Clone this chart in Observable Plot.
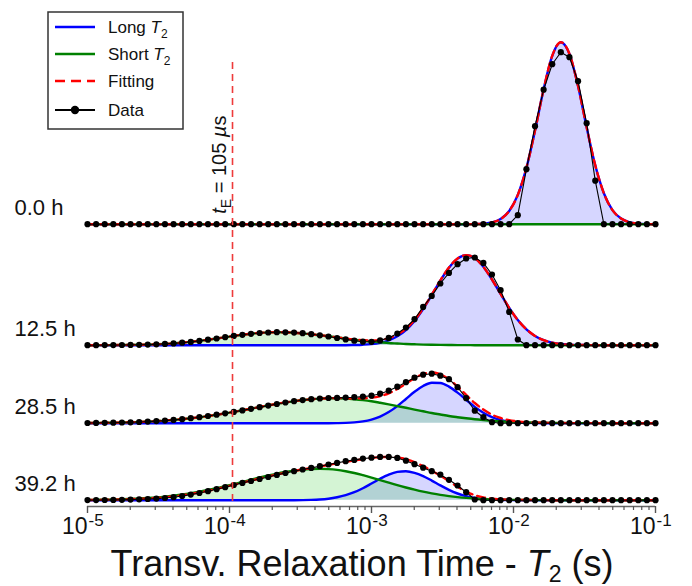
<!DOCTYPE html>
<html>
<head>
<meta charset="utf-8">
<script src="https://cdn.jsdelivr.net/npm/d3@7"></script>
<script src="https://cdn.jsdelivr.net/npm/@observablehq/plot@0.6"></script>
<style>
  body { margin: 0; background: #fff; }
  #wrap { position: relative; width: 692px; height: 586px; font-family: "Liberation Sans", Arial, sans-serif; }
</style>
</head>
<body>
<div id="wrap"></div>
<script>
// ---------------- data ----------------
const hours = ["0.0 h", "12.5 h", "28.5 h", "39.2 h"];
const offsets = [276, 155, 77, 0];           // vertical stacking offset of each trace
const decadeTicks = [1e-5, 1e-4, 1e-3, 1e-2, 1e-1];
const tickExponents = ["-5", "-4", "-3", "-2", "-1"];
const tE = 1.05e-4;                            // echo time, 105 µs
const nPoints = 67;                            // log-spaced T2 grid, 1e-5 … 1e-1 s

const long_0h = [
  0,0,0,0,0,0,0,0,0,0,
  0,0,0,0,0,0,0,0,0,0,
  0,0,0,0,0,0,0,0,0,0,
  0,0,0,0,0,0,0,0,0,0,
  0,0,0,0,0,0.1,0.5,1.7,5.1,13.2,
  29.3,56.3,93.6,134.9,168.4,182,170.3,138.1,96.9,58.9,
  31,14.1,5.6,1.9,0.6,0.1,0];
const short_0h = [
  0,0,0,0,0,0,0,0,0,0,
  0,0,0,0,0,0,0,0,0,0,
  0,0,0,0,0,0,0,0,0,0,
  0,0,0,0,0,0,0,0,0,0,
  0,0,0,0,0,0,0,0,0,0,
  0,0,0,0,0,0,0,0,0,0,
  0,0,0,0,0,0,0];
const fit_0h = [
  0,0,0,0,0,0,0,0,0,0,
  0,0,0,0,0,0,0,0,0,0,
  0,0,0,0,0,0,0,0,0,0,
  0,0,0,0,0,0,0,0,0,0,
  0,0,0,0,0,0.1,0.5,1.7,5.1,13.2,
  29.3,56.3,93.6,134.9,168.4,182,170.3,138.1,96.9,58.9,
  31,14.1,5.6,1.9,0.6,0.1,0];
const data_0h = [
  0,0,0,0,0,0,0,0,0,0,
  0,0,0,0,0,0,0,0,0,0,
  0,0,0,0,0,0,0,0,0,0,
  0,0,0,0,0,0,0,0,0,0,
  0,0,0,0,0,0,0,0,0,0,
  9,55,98,134.5,160,172,167,143,101,43.5,
  0,0,0,0,0,0,0];

const long_12h = [
  0,0,0,0,0,0,0,0,0,0,
  0,0,0,0,0,0,0,0,0,0,
  0,0,0,0,0,0,0,0,0,0,
  0,0.2,0.5,1.1,2.4,4.8,8.9,15.2,24.3,36.2,
  50.1,64.6,77.5,86.6,90,87.1,78.4,65.7,51.3,37.3,
  25.2,15.9,9.3,5,2.6,1.2,0.5,0.2,0.1,0,
  0,0,0,0,0,0,0];
const short_12h = [
  0,0,0.1,0.1,0.2,0.3,0.4,0.6,0.9,1.3,
  1.8,2.5,3.4,4.3,5.5,6.7,8,9.3,10.5,11.5,
  12.3,12.8,13,12.9,12.5,11.8,11,10,8.9,7.8,
  6.6,5.5,4.6,3.6,2.9,2.2,1.7,1.2,0.9,0.6,
  0.4,0.3,0.2,0.1,0.1,0,0,0,0,0,
  0,0,0,0,0,0,0,0,0,0,
  0,0,0,0,0,0,0];
const fit_12h = [
  0,0,0.1,0.1,0.2,0.3,0.4,0.6,0.9,1.3,
  1.8,2.5,3.4,4.3,5.5,6.7,8,9.3,10.5,11.5,
  12.3,12.8,13,12.9,12.5,11.8,11,10,8.9,7.8,
  6.6,5.7,5.1,4.7,5.3,7,10.6,16.4,25.2,36.8,
  50.5,64.9,77.7,86.7,90.1,87.1,78.4,65.7,51.3,37.3,
  25.2,15.9,9.3,5,2.6,1.2,0.5,0.2,0.1,0,
  0,0,0,0,0,0,0];
const data_12h = [
  0,0,0.1,0.1,0.2,0.3,0.4,0.6,0.9,1.3,
  1.8,2.5,3.3,4.3,5.5,6.7,8,9.3,10.4,11.4,
  12.2,12.7,13,12.9,12.6,12,11,9.9,8.7,7.2,
  5.8,4.5,3.5,3.4,4.8,7.3,11.7,17.7,26,38.3,
  49.3,61.7,72.3,81,86.7,87.7,82.3,70.7,55,33.3,
  5.7,0,0,0,0,0,0,0,0,0,
  0,0,0,0,0,0,0];

const long_28h = [
  0,0,0,0,0,0,0,0,0,0,
  0,0,0,0,0,0,0,0,0,0,
  0,0,0,0,0,0,0,0,0,0.1,
  0.3,0.8,1.8,3.6,6.6,11.1,17.1,24.2,31.4,37.2,
  40.5,40.2,36.6,30.6,23.4,16.3,10.5,6.1,3.3,1.6,
  0.7,0.3,0.1,0,0,0,0,0,0,0,
  0,0,0,0,0,0,0];
const short_28h = [
  0.2,0.3,0.4,0.5,0.7,0.9,1.2,1.6,2.1,2.6,
  3.3,4,4.9,6,7.1,8.4,9.8,11.3,12.9,14.5,
  16.2,17.8,19.3,20.8,22.1,23.2,24,24.6,25,25,
  24.7,24,23.1,21.9,20.4,18.8,17.1,15.4,13.6,11.9,
  10.2,8.7,7.2,6,4.9,3.9,3.1,2.4,1.9,1.4,
  1.1,0.8,0.6,0.4,0.3,0.2,0.1,0.1,0.1,0,
  0,0,0,0,0,0,0];
const fit_28h = [
  0.2,0.3,0.4,0.5,0.7,0.9,1.2,1.6,2.1,2.6,
  3.3,4,4.9,6,7.1,8.4,9.8,11.3,12.9,14.5,
  16.2,17.8,19.3,20.8,22.1,23.2,24,24.6,25,25.1,
  25,24.8,24.9,25.5,27,29.9,34.2,39.6,45,49.1,
  50.7,48.9,43.8,36.6,28.3,20.2,13.6,8.5,5.2,3,
  1.8,1.1,0.7,0.4,0.3,0.2,0.1,0.1,0.1,0,
  0,0,0,0,0,0,0];
const data_28h = [
  0.2,0.3,0.4,0.5,0.7,0.9,1.2,1.6,2.1,2.6,
  3.3,4,5,6,7.2,8.5,9.9,11.3,12.8,14.4,
  16,17.6,19.2,20.7,22,23.1,24,24.7,25.2,25.3,
  25.6,26,26.6,27.5,29.5,32.5,36.5,41,45.5,48.5,
  49.5,47.5,44,36,25,12.5,6,1,0,0,
  0,0,0,0,0,0,0,0,0,0,
  0,0,0,0,0,0,0];

const long_39h = [
  0,0,0,0,0,0,0,0,0,0,
  0,0,0,0,0,0,0,0,0,0,
  0,0,0,0,0,0.1,0.3,0.7,1.5,2.9,
  5,8,12,16.7,21.5,25.6,28.3,29,27.4,24.1,
  19.6,14.8,10.3,6.7,4,2.2,1.2,0.6,0.2,0.1,
  0,0,0,0,0,0,0,0,0,0,
  0,0,0,0,0,0,0];
const short_39h = [
  0.2,0.4,0.5,0.7,0.9,1.3,1.7,2.2,2.8,3.6,
  4.6,5.7,7,8.5,10.2,12,14,16.1,18.3,20.5,
  22.7,24.7,26.6,28.2,29.6,30.6,31.2,31.4,31.1,30.3,
  28.9,27.2,25,22.6,20.1,17.5,15,12.7,10.5,8.5,
  6.8,5.3,4.1,3.1,2.3,1.7,1.2,0.8,0.6,0.4,
  0.3,0.2,0.1,0.1,0,0,0,0,0,0,
  0,0,0,0,0,0,0];
const fit_39h = [
  0.2,0.3,0.4,0.55,0.75,1,1.35,1.8,2.3,3,
  3.8,4.9,6.2,7.7,9.4,11.3,13.3,15.4,17.5,19.6,
  21.7,23.7,25.7,27.5,29.2,30.8,32.2,33.8,35.3,36.8,
  38.3,39.7,41,42.2,43,43.3,42.8,41,38,34,
  29.5,24.5,19,13.5,8.5,5,2.8,1.5,0.8,0.5,
  0.3,0.2,0.1,0.1,0,0,0,0,0,0,
  0,0,0,0,0,0,0];
const data_39h = [
  0.1,0.1,0.2,0.3,0.4,0.6,0.9,1.2,1.6,2.2,
  3,4.2,5.6,7.2,9,11,13,15.2,17.3,19.2,
  21.2,23.2,25.3,27.2,29,30.7,32.3,34,35.7,37.3,
  39,40.3,41.6,42.5,43.3,43.3,42.3,39.5,36,32.5,
  29,25.5,20.4,14.7,8,0.7,0,0,0,0,
  0,0,0,0,0,0,0,0,0,0,
  0,0,0,0,0,0,0];

// ---------------- build table ----------------
const grid = d3.range(nPoints).map(k => Math.pow(10, -5 + 4 * k / (nPoints - 1)));
const traces = [
  {hour: hours[0], offset: offsets[0], long: long_0h,  short: short_0h,  fit: fit_0h,  data: data_0h},
  {hour: hours[1], offset: offsets[1], long: long_12h, short: short_12h, fit: fit_12h, data: data_12h},
  {hour: hours[2], offset: offsets[2], long: long_28h, short: short_28h, fit: fit_28h, data: data_28h},
  {hour: hours[3], offset: offsets[3], long: long_39h, short: short_39h, fit: fit_39h, data: data_39h}
];
const rows = traces.flatMap(t => grid.map((T, k) => ({
  hour: t.hour, T,
  base: t.offset,
  long: t.offset + t.long[k],
  short: t.offset + t.short[k],
  fit: t.offset + t.fit[k],
  data: t.offset + t.data[k]
})));
const minorTicks = d3.range(-5, -1).flatMap(e => d3.range(2, 10).map(m => m * Math.pow(10, e)));
const yDomain = [-6.3, 437.7];
const font = "'Liberation Sans', Arial, sans-serif";

const chart = Plot.plot({
  width: 692, height: 586,
  marginLeft: 87, marginRight: 37, marginTop: 62, marginBottom: 80,
  x: {type: "log", domain: [1e-5, 1e-1], axis: null},
  y: {domain: yDomain, axis: null},
  style: {fontFamily: font, background: "white", overflow: "visible", color: "#111"},
  marks: [
    Plot.areaY(rows, {x: "T", y1: "base", y2: "long", z: "hour", fill: "#0000ff", fillOpacity: 0.16, curve: "monotone-x"}),
    Plot.areaY(rows, {x: "T", y1: "base", y2: "short", z: "hour", fill: "#00c000", fillOpacity: 0.17, curve: "monotone-x"}),
    Plot.lineY(rows, {x: "T", y: "long", z: "hour", stroke: "#0000ff", strokeWidth: 2.4, curve: "monotone-x"}),
    Plot.lineY(rows, {x: "T", y: "short", z: "hour", stroke: "#008000", strokeWidth: 2.4, curve: "monotone-x"}),
    Plot.lineY(rows, {x: "T", y: "fit", z: "hour", stroke: "#ff0000", strokeWidth: 2.4, strokeDasharray: "8,5", curve: "monotone-x"}),
    Plot.lineY(rows, {x: "T", y: "data", z: "hour", stroke: "black", strokeWidth: 1.1}),
    Plot.dot(rows, {x: "T", y: "data", r: 3.1, fill: "black", stroke: "none"}),
    Plot.ruleX([tE], {stroke: "#ee3b3b", strokeWidth: 1.6, strokeDasharray: "7,5"}),
    Plot.ruleY([yDomain[0]], {stroke: "#666", strokeWidth: 1.6}),
    Plot.axisX(decadeTicks, {anchor: "bottom", tickSize: 7, tickFormat: () => "", label: null, stroke: "#555", strokeWidth: 1.4}),
    Plot.axisX(minorTicks, {anchor: "bottom", tickSize: 4, tickFormat: () => "", label: null, stroke: "#555", strokeWidth: 1.2}),
    Plot.text(decadeTicks, {x: d => d, frameAnchor: "bottom", text: () => "10", textAnchor: "end", dy: 27, fontSize: 23, fill: "#111"}),
    Plot.text(decadeTicks, {x: d => d, frameAnchor: "bottom", text: (d, i) => tickExponents[i], textAnchor: "start", dx: 1, dy: 19, fontSize: 17, fill: "#111"}),
    Plot.text(hours, {y: (d, i) => offsets[i], frameAnchor: "left", text: d => d, textAnchor: "start", dx: -73, dy: -16, fontSize: 22, fill: "#111"})
  ]
});

const svg = d3.select(chart);
const xs = chart.scale("x"), ys = chart.scale("y");

// t_E annotation (rotated)
const tx = xs.apply(tE) - 6, ty = ys.apply(335);
const tl = svg.append("text")
  .attr("transform", `translate(${tx},${ty}) rotate(-90)`)
  .attr("text-anchor", "middle").attr("font-size", 20).attr("fill", "#111").attr("font-family", font);
tl.append("tspan").attr("font-style", "italic").text("t");
tl.append("tspan").attr("font-size", 14).attr("dy", 5).text("E");
tl.append("tspan").attr("dy", -5).text(" = 105 ");
tl.append("tspan").attr("font-style", "italic").text("\u00b5");
tl.append("tspan").text("s");

// x-axis title
const [r0, r1] = xs.range;
const title = svg.append("text")
  .attr("x", (r0 + r1) / 2 - 9).attr("y", 576)
  .attr("text-anchor", "middle").attr("font-size", 36).attr("fill", "#111").attr("font-family", font);
title.append("tspan").text("Transv. Relaxation Time - ");
title.append("tspan").attr("font-style", "italic").text("T");
title.append("tspan").attr("font-size", 23).attr("dy", 6).text("2");
title.append("tspan").attr("dy", -6).text(" (s)");

// legend
const legendItems = [
  {name: "Long ", sub: true, color: "#0000ff", dash: null, dot: false},
  {name: "Short ", sub: true, color: "#008000", dash: null, dot: false},
  {name: "Fitting", sub: false, color: "#ff0000", dash: "10,6", dot: false},
  {name: "Data", sub: false, color: "black", dash: null, dot: true}
];
const lg = svg.append("g").attr("transform", "translate(48,12)").attr("font-family", font);
lg.append("rect").attr("width", 135).attr("height", 117).attr("fill", "white").attr("stroke", "#333").attr("stroke-width", 1.5);
const rowY = [15, 42, 69, 98];
legendItems.forEach((it, i) => {
  const g = lg.append("g").attr("transform", `translate(0,${rowY[i]})`);
  g.append("line").attr("x1", 7).attr("x2", 47).attr("stroke", it.color)
    .attr("stroke-width", it.dot ? 2 : 2.6).attr("stroke-dasharray", it.dash);
  if (it.dot) g.append("circle").attr("cx", 27).attr("r", 4.2).attr("fill", "black");
  const t = g.append("text").attr("x", 60).attr("dy", "0.35em").attr("text-anchor", "start")
    .attr("font-size", 17).attr("fill", "#111");
  t.append("tspan").text(it.name);
  if (it.sub) {
    t.append("tspan").attr("font-style", "italic").text("T");
    t.append("tspan").attr("font-size", 12).attr("dy", 5).text("2");
  }
});

document.getElementById("wrap").append(chart);
</script>
</body>
</html>
